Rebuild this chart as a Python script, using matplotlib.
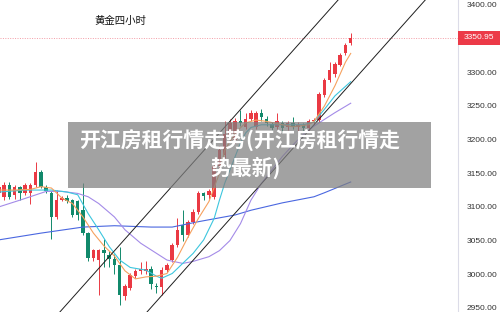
import matplotlib
matplotlib.use("Agg")
import matplotlib.pyplot as plt
import matplotlib.transforms as mtransforms
from matplotlib.patches import Rectangle

plt.rcParams['font.family'] = ['Noto Sans CJK SC', 'DejaVu Sans']

# candle data (4h gold)
opens = [3120, 3115, 3132, 3118, 3129, 3120, 3121, 3132, 3152, 3130,
         3120, 3085, 3110, 3113, 3110, 3108, 3095, 3061, 3024, 3021,
         3036, 3028, 3023, 3013, 2967, 2979, 2998, 3004, 3005, 3008,
         2983, 2981, 3006, 3021, 3043, 3073, 3058, 3078, 3093, 3121,
         3118, 3115, 3160, 3177, 3207, 3200, 3227, 3219, 3231, 3219,
         3239, 3231, 3223, 3219, 3224, 3219, 3224, 3218, 3222, 3217,
         3227, 3229, 3266, 3289, 3298, 3311, 3328, 3343]
closes = [3130, 3132, 3115, 3130, 3121, 3132, 3132, 3152, 3130, 3123,
          3085, 3110, 3113, 3108, 3088, 3088, 3061, 3024, 3036, 3036,
          3031, 3023, 3013, 2969, 2982, 2999, 3004, 3007, 3008, 2986,
          2981, 3006, 3013, 3043, 3066, 3058, 3078, 3093, 3120, 3116,
          3123, 3160, 3185, 3209, 3224, 3227, 3224, 3231, 3239, 3239,
          3234, 3224, 3217, 3227, 3217, 3224, 3218, 3222, 3217, 3227,
          3229, 3268, 3289, 3303, 3312, 3326, 3340, 3350.95]
highs = [3136, 3137, 3137, 3133, 3131, 3135, 3135, 3166, 3155, 3133,
         3123, 3125, 3116, 3117, 3112, 3110, 3135, 3063, 3038, 3038,
         3052, 3035, 3030, 3040, 2985, 3002, 3007, 3018, 3020, 3012,
         2987, 3010, 3016, 3046, 3084, 3095, 3081, 3097, 3123, 3122,
         3127, 3163, 3190, 3227, 3230, 3232, 3244, 3239, 3244, 3242,
         3245, 3235, 3226, 3240, 3228, 3228, 3233, 3226, 3225, 3230,
         3232, 3271, 3292, 3316, 3316, 3329, 3343, 3358]
lows = [3116, 3110, 3112, 3112, 3110, 3118, 3105, 3130, 3128, 3120,
        3053, 3082, 3108, 3106, 3085, 3080, 3058, 3020, 3020, 2969,
        3010, 3010, 3000, 2954, 2962, 2977, 2995, 3000, 3000, 2978,
        2972, 2969, 3003, 3018, 3040, 3050, 3055, 3075, 3090, 3110,
        3112, 3112, 3155, 3172, 3200, 3195, 3220, 3215, 3228, 3215,
        3228, 3220, 3214, 3215, 3212, 3214, 3215, 3212, 3212, 3213,
        3222, 3226, 3264, 3286, 3293, 3309, 3326, 3341]

# moving averages (sampled at candle indexes)
ma_fast_idx = [0, 3, 6, 8, 10, 12, 14, 16, 18, 20, 22, 24, 26, 28, 30, 32, 34, 36,
               38, 40, 42, 43, 45, 47, 49, 51, 54, 56, 59, 60, 62, 64, 66, 67]
ma_fast = [3125, 3125, 3126, 3130, 3128, 3113, 3105, 3085, 3061, 3042, 3027, 3005,
           2993, 2996, 2997, 3001, 3025, 3055, 3083, 3108, 3150, 3184, 3210, 3225,
           3229, 3227, 3222, 3219, 3222, 3227, 3250, 3280, 3315, 3328]
ma_mid_idx = [0, 5, 10, 13, 15, 17, 19, 21, 23, 25, 28, 30, 31, 33, 35, 37, 39, 41,
              42, 43, 44, 45, 46, 47, 48, 50, 54, 58, 60, 62, 64, 67]
ma_mid = [3122, 3125, 3125, 3122, 3118, 3090, 3066, 3041, 3021, 3010, 3006, 2997,
          2994, 3001, 3016, 3031, 3051, 3083, 3110, 3135, 3155, 3175, 3195, 3210,
          3218, 3222, 3222, 3222, 3226, 3245, 3265, 3286]
ma_slow_idx = [0, 4, 9, 12, 15, 17, 19, 22, 24, 27, 30, 32, 35, 37, 40, 42, 44, 46,
               48, 50, 52, 54, 56, 58, 60, 62, 64, 67]
ma_slow = [3100, 3110, 3123, 3123, 3120, 3115, 3105, 3085, 3066, 3046, 3031, 3021,
           3016, 3019, 3026, 3035, 3050, 3075, 3110, 3135, 3155, 3175, 3192, 3208,
           3220, 3230, 3240, 3254]
ma_long_idx = [0, 8, 16, 22, 29, 33, 38, 45, 48, 54, 60, 62, 67]
ma_long = [3051, 3061, 3070, 3072, 3070, 3070, 3078, 3088, 3095, 3106, 3115, 3121, 3137]

# channel lines (index, price endpoints)
chan_a_x = [11.6, 64.6]
chan_b_x = [28.2, 81.2]
chan_y = [2943.8, 3407.4]

# 3350 is hidden behind the last-price tag
yticks = [2950, 3000, 3050, 3100, 3150, 3200, 3250, 3300, 3400]

title = "黄金四小时"
banner1 = "开江房租行情走势(开江房租行情走"
banner2 = "势最新)"

up_col = '#ea3943'
dn_col = '#11896b'

fig = plt.figure(figsize=(5, 3.12), dpi=100)
ax = fig.add_axes([0, 0, 458 / 500, 1])

for i in range(len(opens)):
    o, c, h, l = opens[i], closes[i], highs[i], lows[i]
    col = up_col if c >= o else dn_col
    ax.vlines(i, l, h, color=col, lw=0.7, zorder=3)
    ax.bar(i, max(abs(c - o), 1.2), bottom=min(o, c), width=0.66, color=col,
           lw=0, zorder=4)

ax.plot(ma_long_idx, ma_long, color='#4a67e0', lw=0.8, zorder=5)
ax.plot(ma_slow_idx, ma_slow, color='#a48be8', lw=0.8, zorder=5)
ax.plot(ma_mid_idx, ma_mid, color='#3cc6de', lw=0.8, zorder=5)
ax.plot(ma_fast_idx, ma_fast, color='#f6a15e', lw=0.8, zorder=5)

ax.plot(chan_a_x, chan_y, color='#1e1e1e', lw=0.7, zorder=6)
ax.plot(chan_b_x, chan_y, color='#1e1e1e', lw=0.7, zorder=6)

last = closes[-1]
ax.axhline(last, color='#f39ca6', lw=0.7, ls=(0, (1, 1.5)), zorder=2)

ax.set_xlim(0.2, 0.2 + 458 / 5.25)
ax.set_ylim(2943.8, 3407.4)
ax.set_xticks([])
ax.set_yticks(yticks)
ax.set_yticklabels(['%.2f' % v for v in yticks], family='Liberation Sans',
                   fontsize=6, color='#333333')
ax.yaxis.tick_right()
ax.tick_params(axis='y', length=0, pad=6)
for s in ['top', 'left', 'bottom']:
    ax.spines[s].set_visible(False)
ax.spines['right'].set_color('#dcdce8')
ax.spines['right'].set_linewidth(0.8)

# last price tag
trans = mtransforms.blended_transform_factory(ax.transAxes, ax.transData)
ax.add_patch(Rectangle((1.0, last - 10.4), 42 / 458, 20.8, transform=trans,
                       facecolor='#ec3a48', edgecolor='none', clip_on=False, zorder=7))
ax.text(1.0 + 21 / 458, last, '%.2f' % last, transform=trans, ha='center',
        va='center', color='white', fontsize=6, family='Liberation Sans', zorder=8)

ax.text(0.262, 0.932, title, transform=ax.transAxes, ha='center', va='center',
        fontsize=7.5, fontweight='medium', color='#111111')

# grey caption banner
fig.add_artist(Rectangle((68 / 500, 1 - 188 / 312), 363 / 500, 66 / 312,
                         transform=fig.transFigure, facecolor='#7f7f7f',
                         edgecolor='none', alpha=0.72, zorder=10))
fig.text(240 / 500, 1 - 141 / 312, banner1, ha='center', va='center',
         fontsize=15, fontweight='bold', color='white', zorder=11)
fig.text(246 / 500, 1 - 168 / 312, banner2, ha='center', va='center',
         fontsize=15, fontweight='bold', color='white', zorder=11)

fig.savefig('out.png', dpi=100)
